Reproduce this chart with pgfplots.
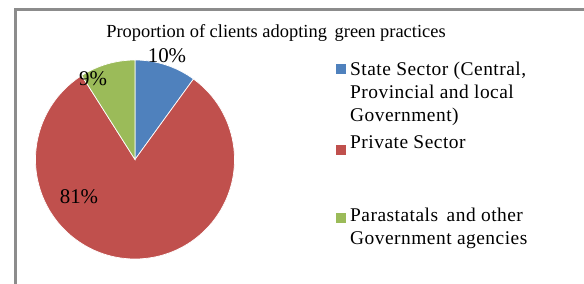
\documentclass[border=0pt]{standalone}
\usepackage{pgfplots}
\usepackage{pgfplotstable}
\pgfplotsset{compat=1.18}
\usepackage{fontspec}
\setmainfont{Liberation Serif}
\newfontfamily\legfont[LetterSpace=2.5]{Liberation Serif}
\definecolor{sliceA}{RGB}{79,129,189}
\definecolor{sliceB}{RGB}{192,80,77}
\definecolor{sliceC}{RGB}{155,187,89}
\definecolor{frameC}{RGB}{140,140,140}

\pgfplotstableread{
label value
State 10
Private 81
Parastatals 9
}\piedata

\begin{document}
\begin{tikzpicture}
\useasboundingbox (0,0) rectangle (584bp,284bp);
\pgfplotstablegetelem{0}{value}\of\piedata \global\let\vA\pgfplotsretval
\pgfplotstablegetelem{1}{value}\of\piedata \global\let\vB\pgfplotsretval
\pgfplotstablegetelem{2}{value}\of\piedata \global\let\vC\pgfplotsretval
\pgfmathsetmacro\aA{90-3.6*\vA}
\pgfmathsetmacro\aB{\aA-3.6*\vB}
\pgfmathsetmacro\aC{\aB-3.6*\vC}
\begin{axis}[
  hide axis, x=1bp, y=1bp,
  xmin=0, xmax=584, ymin=0, ymax=284,
  at={(0,0)}, anchor=south west, clip=false]
% frame
\draw[frameC, line width=2.6bp] (axis cs:15.3,0) -- (axis cs:15.3,274.6) -- (axis cs:584,274.6);
% title
\node[anchor=base, font=\fontsize{18.5}{22}\selectfont] at (axis cs:276,246.5) {Proportion of clients adopting\, green practices};
% pie slices
\fill[sliceA, draw=white, line width=0.7bp] (axis cs:135,124.5) -- ++(90:99.5bp) arc[start angle=90, end angle=\aA, radius=99.5bp] -- cycle;
\fill[sliceB, draw=white, line width=0.7bp] (axis cs:135,124.5) -- ++(\aA:99.5bp) arc[start angle=\aA, end angle=\aB, radius=99.5bp] -- cycle;
\fill[sliceC, draw=white, line width=0.7bp] (axis cs:135,124.5) -- ++(\aB:99.5bp) arc[start angle=\aB, end angle=\aC, radius=99.5bp] -- cycle;
% data labels
\node[anchor=base, font=\fontsize{21}{24}\selectfont, inner sep=0pt] at (axis cs:167,222) {10\%};
\node[anchor=base, font=\fontsize{21}{24}\selectfont, inner sep=0pt] at (axis cs:93,199) {9\%};
\node[anchor=base, font=\fontsize{21}{24}\selectfont, inner sep=0pt] at (axis cs:79,81) {81\%};
% legend
\fill[sliceA] (axis cs:336,210) rectangle (axis cs:346,220);
\fill[sliceB] (axis cs:336,129) rectangle (axis cs:346,139);
\fill[sliceC] (axis cs:336,61) rectangle (axis cs:346,71);
\begin{scope}[every node/.style={anchor=base west, inner sep=0pt, font=\legfont\fontsize{19.5}{23.3}\selectfont}]
\node at (axis cs:350,209) {State Sector (Central,};
\node at (axis cs:350,185.5) {Provincial and local};
\node at (axis cs:350,162.5) {Government)};
\node at (axis cs:350,136) {Private Sector};
\node at (axis cs:350,63) {Parastatals\, and other};
\node at (axis cs:350,39.5) {Government agencies};
\end{scope}
\end{axis}
\end{tikzpicture}
\end{document}
